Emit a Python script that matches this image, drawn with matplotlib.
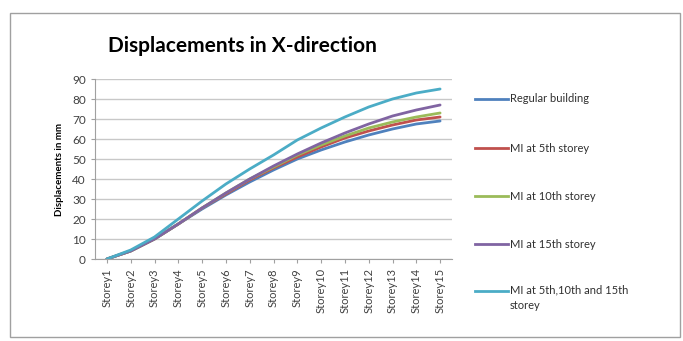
import matplotlib.pyplot as plt
from matplotlib.lines import Line2D
from matplotlib.patches import Rectangle

# Storey-wise lateral displacements (mm)
storeys = [f"Storey{i}" for i in range(1, 16)]
regular = [0, 4, 10, 17.5, 25, 32, 38.5, 44.5, 50, 54.5, 58.5, 62, 65, 67.5, 69]
mi_5th = [0, 4, 10, 17.5, 25.5, 32.5, 39.5, 45.5, 51, 56, 60.5, 64, 67, 69.5, 71]
mi_10th = [0, 4, 10, 17.5, 25.5, 33, 40, 46, 52, 57, 61.5, 65.5, 68.5, 71, 73]
mi_15th = [0, 4, 10, 17.5, 25.5, 33, 40, 46.5, 52.5, 58, 63, 67.5, 71.5, 74.5, 77]
mi_all = [0, 4.5, 11, 20, 29, 37.5, 45, 52, 59.5, 65.5, 71, 76, 80, 83, 85]

series = [
    ("Regular building", regular, "#4F81BD"),
    ("MI at 5th storey", mi_5th, "#C0504D"),
    ("MI at 10th storey", mi_10th, "#9BBB59"),
    ("MI at 15th storey", mi_15th, "#8064A2"),
    ("MI at 5th,10th and 15th\nstorey", mi_all, "#4BACC6"),
]

W, H = 683, 341
plt.rcParams['font.family'] = ['Lato', 'DejaVu Sans']
fig = plt.figure(figsize=(W / 100, H / 100), dpi=100)

# chart frame
fig.patches.append(Rectangle((10 / W, 4 / H), 670 / W, 324 / H, transform=fig.transFigure,
                             fill=False, edgecolor='#a0a0a0', linewidth=1))

ax = fig.add_axes([95 / W, (H - 259) / H, (452 - 95) / W, (259 - 79) / H])
x = list(range(len(storeys)))
for label, vals, color in series:
    ax.plot(x, vals, color=color, linewidth=2, solid_capstyle='round')

ax.set_xlim(-0.5, len(storeys) - 0.5)
ax.set_ylim(0, 90)
ax.set_yticks(range(0, 91, 10))
ax.set_xticks(x)
ax.set_xticklabels(storeys, rotation=90, fontsize=8, color='#404040')
ax.tick_params(axis='y', labelsize=8.5, colors='#404040', length=3, color='#a0a0a0')
ax.tick_params(axis='x', length=3, color='#a0a0a0')
ax.grid(axis='y', color='#c8c8c8', linewidth=1)
ax.set_axisbelow(True)
for side in ['top', 'right']:
    ax.spines[side].set_visible(False)
ax.spines['left'].set_color('#a0a0a0')
ax.spines['bottom'].set_color('#a0a0a0')

ax.set_ylabel("Displacements in mm", fontsize=7, fontweight='bold', labelpad=6)
fig.text(242 / W, 1 - 46 / H, "Displacements in X-direction", fontsize=15,
         fontweight='bold', ha='center', va='center')

# legend entries on the right
legend_y = [99, 148, 196, 244, 291]
for (label, vals, color), yy in zip(series, legend_y):
    fy = 1 - yy / H
    fig.add_artist(Line2D([475 / W, 508 / W], [fy, fy], color=color, linewidth=2,
                          transform=fig.transFigure))
    if '\n' in label:
        fig.text(510 / W, fy + 7 / H, label, fontsize=8, va='top', ha='left',
                 color='#303030', linespacing=1.6)
    else:
        fig.text(510 / W, fy, label, fontsize=8, va='center', ha='left', color='#303030')

fig.savefig("out.png", dpi=100)
